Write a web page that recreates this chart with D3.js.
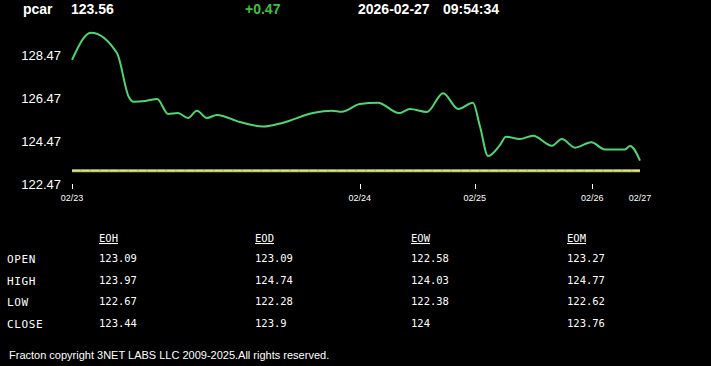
<!DOCTYPE html>
<html>
<head>
<meta charset="utf-8">
<script src="https://cdn.jsdelivr.net/npm/d3@7"></script>
<style>
	body { margin: 0; background: #000; overflow: hidden; }
	svg { display: block; }
</style>
</head>
<body>
<div id="chart"></div>
<script>
// header
var symbol = "pcar";
var lastPrice = "123.56";
var change = "+0.47";
var quoteDate = "2026-02-27";
var quoteTime = "09:54:34";

// intraday series (bar index, price)
var barIndex = [0, 4, 9.5, 12, 13, 15.5, 18, 20.3, 22.4, 24.5, 26.4, 28.5, 30.6, 35.5, 40.4, 44.6, 50.9, 54.9, 57, 60.8, 64.6, 69.1, 71.4, 75, 78.4, 81.6, 84.7, 86.2, 87.9, 90.4, 91.7, 94.6, 97.4, 101.4, 103.5, 106.3, 109.7, 112.6, 116.8, 117.9, 120];
var prices = [128.24, 129.51, 128.56, 126.52, 126.30, 126.33, 126.42, 125.73, 125.77, 125.54, 125.88, 125.54, 125.68, 125.35, 125.14, 125.32, 125.77, 125.88, 125.83, 126.19, 126.25, 125.77, 125.96, 125.82, 126.69, 125.96, 126.25, 125.14, 123.77, 124.28, 124.67, 124.56, 124.72, 124.25, 124.56, 124.16, 124.41, 124.08, 124.08, 124.24, 123.56];
var refLevel = 123.09;

// axes
var yTicks = [122.47, 124.47, 126.47, 128.47];
var dateTicks = ["02/23", "02/24", "02/25", "02/26", "02/27"];
var dateTickIndex = [0, 60.8, 85.1, 109.9, 120];

// summary table
var tableCols = ["EOH", "EOD", "EOW", "EOM"];
var tableRows = ["OPEN", "HIGH", "LOW", "CLOSE"];
var eoh = ["123.09", "123.97", "122.67", "123.44"];
var eod = ["123.09", "124.74", "122.28", "123.9"];
var eow = ["122.58", "124.03", "122.38", "124"];
var eom = ["123.27", "124.77", "122.62", "123.76"];

var footer = "Fracton copyright 3NET LABS LLC 2009-2025.All rights reserved.";

var W = 711, H = 366;
var svg = d3.select("#chart").append("svg")
	.attr("width", W)
	.attr("height", H);

var sans = "Arial, 'Liberation Sans', sans-serif";
var mono = "'DejaVu Sans Mono', 'Liberation Mono', monospace";

// header row
var header = [
	{ t: symbol, x: 23, c: "#fff" },
	{ t: lastPrice, x: 71, c: "#fff" },
	{ t: change, x: 245, c: "#3fc13f" },
	{ t: quoteDate, x: 358, c: "#fff" },
	{ t: quoteTime, x: 443, c: "#fff" }
];
svg.selectAll(".hdr")
	.data(header)
	.enter().append("text")
	.attr("class", "hdr")
	.attr("x", function(d) { return d.x; })
	.attr("y", 14)
	.attr("fill", function(d) { return d.c; })
	.style("font-family", sans)
	.style("font-weight", "bold")
	.style("font-size", "14px")
	.text(function(d) { return d.t; });

// scales
var x = d3.scaleLinear().domain([0, 120]).range([72, 640]);
var y = d3.scaleLinear().domain([122.47, 128.47]).range([184, 55]);

// y labels
svg.selectAll(".ylab")
	.data(yTicks)
	.enter().append("text")
	.attr("class", "ylab")
	.attr("x", 61)
	.attr("y", function(d) { return y(d); })
	.attr("dy", "0.35em")
	.attr("text-anchor", "end")
	.attr("fill", "#fff")
	.style("font-family", sans)
	.style("font-size", "13px")
	.text(function(d) { return d.toFixed(2); });

// x ticks (last date has no tick mark)
svg.selectAll(".xtick")
	.data(dateTickIndex.slice(0, 4))
	.enter().append("line")
	.attr("x1", function(d) { return Math.round(x(d)) + 0.5; })
	.attr("x2", function(d) { return Math.round(x(d)) + 0.5; })
	.attr("y1", 184)
	.attr("y2", 189)
	.attr("stroke", "#fff")
	.attr("stroke-width", 1);

svg.selectAll(".xlab")
	.data(dateTicks)
	.enter().append("text")
	.attr("x", function(d, i) { return x(dateTickIndex[i]); })
	.attr("y", 201)
	.attr("text-anchor", "middle")
	.attr("fill", "#fff")
	.style("font-family", sans)
	.style("font-size", "9px")
	.text(function(d) { return d; });

// reference line
svg.append("line")
	.attr("x1", x(0)).attr("x2", x(120))
	.attr("y1", y(refLevel)).attr("y2", y(refLevel))
	.attr("stroke", "#b9c35a")
	.attr("stroke-width", 3);
svg.append("line")
	.attr("x1", x(0)).attr("x2", x(120))
	.attr("y1", y(refLevel)).attr("y2", y(refLevel))
	.attr("stroke", "#e4eb9a")
	.attr("stroke-width", 1)
	.attr("stroke-dasharray", "8,1.5");

// price line
var line = d3.line()
	.x(function(d, i) { return x(barIndex[i]); })
	.y(function(d) { return y(d); })
	.curve(d3.curveMonotoneX);

svg.append("path")
	.datum(prices)
	.attr("d", line)
	.attr("fill", "none")
	.attr("stroke", "#4fd672")
	.attr("stroke-width", 2);

// table
var colX = [99, 255, 411, 567];
var rowY = [259, 281, 302, 324];
var cols = [eoh, eod, eow, eom];

svg.selectAll(".colhdr")
	.data(tableCols)
	.enter().append("text")
	.attr("x", function(d, i) { return colX[i]; })
	.attr("y", 242)
	.attr("fill", "#fff")
	.style("font-family", mono)
	.style("font-size", "10.5px")
	.style("text-decoration", "underline")
	.text(function(d) { return d; });

svg.selectAll(".rowlab")
	.data(tableRows)
	.enter().append("text")
	.attr("x", 7)
	.attr("y", function(d, i) { return rowY[i]; })
	.attr("dy", "0.35em")
	.attr("fill", "#fff")
	.style("font-family", mono)
	.style("font-size", "11px")
	.style("letter-spacing", "0.6px")
	.text(function(d) { return d; });

cols.forEach(function(vals, c) {
	svg.selectAll(".cell" + c)
		.data(vals)
		.enter().append("text")
		.attr("x", colX[c])
		.attr("y", function(d, i) { return rowY[i] - 1; })
		.attr("dy", "0.35em")
		.attr("fill", "#fff")
		.style("font-family", mono)
		.style("font-size", "10.5px")
		.text(function(d) { return d; });
});

svg.append("text")
	.attr("x", 9)
	.attr("y", 359)
	.attr("fill", "#fff")
	.style("font-family", sans)
	.style("font-size", "11px")
	.text(footer);
</script>
</body>
</html>
